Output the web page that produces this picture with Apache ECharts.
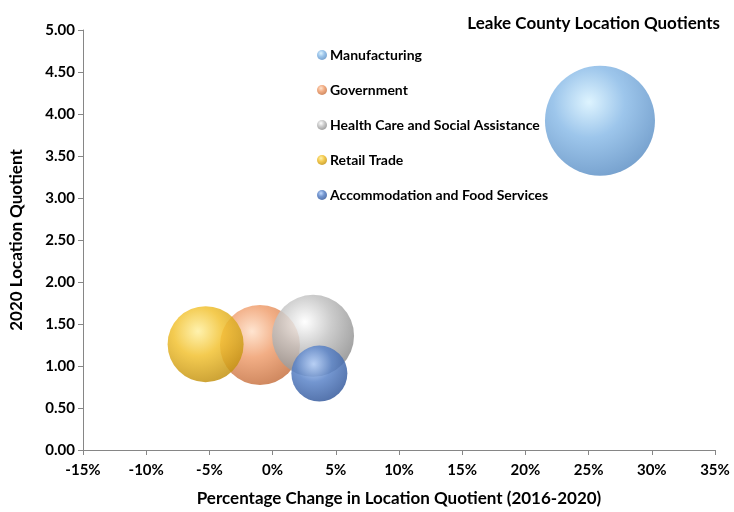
<!DOCTYPE html>
<html><head><meta charset="utf-8">
<script src="https://cdn.jsdelivr.net/npm/echarts@6/dist/echarts.min.js"></script>
<style>html,body{margin:0;padding:0;background:#fff}#c{width:734px;height:512px}</style>
</head><body><div id="c"></div>
<script>
var industries = ['Manufacturing','Government','Health Care and Social Assistance','Retail Trade','Accommodation and Food Services'];
var pctChange = [25.9, -1.0, 3.2, -5.3, 3.7];      // % change in LQ 2016-2020
var lq2020 = [3.92, 1.25, 1.36, 1.26, 0.91];        // 2020 location quotient
var bubbleSize = [3025, 1600, 1681, 1444, 784];     // relative bubble size (area)
var xTicks = [-15, 35, 5];
var yTicks = [0, 5, 0.5];

var palette = [
  ['#d8f2ff','#8cbce8','#5d8fc4'],
  ['#ffe0c8','#f0a070','#c47040'],
  ['#ffffff','#c4c4c4','#8a8a8a'],
  ['#fff0a0','#f2c232','#c08f10'],
  ['#b8d4ff','#5b84c8','#34589a']
];
function ball(i){
  var p = palette[i];
  return {type:'radial', x:0.4, y:0.33, r:0.72, colorStops:[
    {offset:0, color:p[0]},{offset:0.45, color:p[1]},{offset:1, color:p[2]}]};
}
var series = industries.map(function(name,i){
  return {
    name:name, type:'scatter',
    data:[[pctChange[i], lq2020[i], bubbleSize[i]]],
    symbolSize:function(v){ return Math.sqrt(v[2])*2; },
    itemStyle:{color:ball(i), opacity:0.85},
    z: 2 + (i===4?3:0)
  };
});
var chart = echarts.init(document.getElementById('c'));
chart.setOption({
  animation:false,
  title:{text:'Leake County Location Quotients', right:9, top:10,
    textStyle:{fontFamily:'Lato', fontWeight:'bold', fontSize:17, color:'#000'}},
  legend:{
    orient:'vertical', left:312, top:43, itemGap:21, itemWidth:10, itemHeight:10,
    icon:'circle',
    data:industries.map(function(n,i){return {name:n, itemStyle:{color:ball(i)}};}),
    textStyle:{fontFamily:'Lato', fontWeight:'bold', fontSize:14, color:'#000', padding:[0,0,0,-2]}
  },
  grid:{left:83, right:19, top:30, bottom:61},
  xAxis:{
    type:'value', min:xTicks[0], max:xTicks[1], interval:xTicks[2],
    name:'Percentage Change in Location Quotient (2016-2020)', nameLocation:'middle', nameGap:40,
    nameTextStyle:{fontFamily:'Lato', fontWeight:'bold', fontSize:17, color:'#000'},
    axisLine:{onZero:false, lineStyle:{color:'#868686'}},
    axisTick:{show:true, length:5, lineStyle:{color:'#868686'}},
    axisLabel:{formatter:'{value}%', fontFamily:'Lato', fontWeight:'bold', fontSize:15, color:'#000', margin:13},
    splitLine:{show:false}
  },
  yAxis:{
    type:'value', min:yTicks[0], max:yTicks[1], interval:yTicks[2],
    name:'2020 Location Quotient', nameLocation:'middle', nameGap:58,
    nameTextStyle:{fontFamily:'Lato', fontWeight:'bold', fontSize:17, color:'#000'},
    axisLine:{show:true, onZero:false, lineStyle:{color:'#868686'}},
    axisTick:{show:true, length:5, lineStyle:{color:'#868686'}},
    axisLabel:{formatter:function(v){return v.toFixed(2);}, fontFamily:'Lato', fontWeight:'bold', fontSize:15, color:'#000', margin:8},
    splitLine:{show:false}
  },
  series:series
});
</script></body></html>
